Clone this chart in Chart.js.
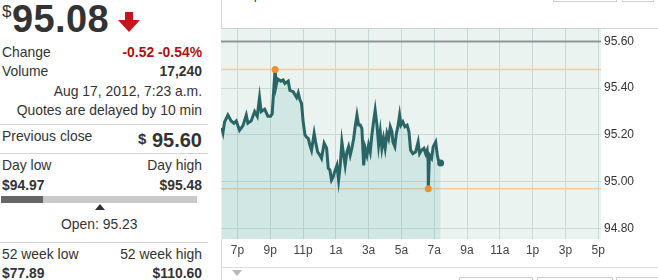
<!DOCTYPE html>
<html>
<head>
<meta charset="utf-8">
<script src="https://cdn.jsdelivr.net/npm/chart.js@4/dist/chart.umd.min.js"></script>
<style>
  html, body { margin: 0; padding: 0; background: #fff; }
  body { width: 658px; height: 280px; position: relative; overflow: hidden;
         font-family: "Liberation Sans", Arial, sans-serif; color: #333; }
  .t { position: absolute; line-height: 1; white-space: nowrap; font-size: 13.9px; }
  .r { right: 456px; text-align: right; }
  .b { font-weight: bold; }
  .red { color: #b20f0f; }
  .sep { position: absolute; left: 0; width: 208px; height: 1px; background: #d4d4d4; }
  .box { position: absolute; border: 1px solid #cfcfcf; background: #fff; }
  #wrap { position: absolute; left: 215px; top: 9px; width: 443px; height: 259px; }
</style>
</head>
<body>
<!-- quote panel -->
<div class="t" style="left:2px;top:3px;font-size:17px;">$</div>
<div class="t b" style="left:12px;top:0px;font-size:38px;letter-spacing:0.4px;">95.08</div>
<svg style="position:absolute;left:117px;top:12px" width="24" height="21" viewBox="0 0 24 21">
  <polygon points="8,0 16,0 16,8 23,8 12,20 1,8 8,8" fill="#c4161c"/>
</svg>

<div class="t" style="left:2px;top:45.5px;">Change</div>
<div class="t r b red" style="top:45.5px;">-0.52 -0.54%</div>
<div class="t" style="left:2px;top:65px;">Volume</div>
<div class="t r b" style="top:65px;">17,240</div>
<div class="t r" style="top:85px;">Aug 17, 2012, 7:23 a.m.</div>
<div class="t r" style="top:103.5px;">Quotes are delayed by 10 min</div>
<div class="sep" style="top:124px;"></div>

<div class="t" style="left:2px;top:130px;">Previous close</div>
<div class="t r b" style="top:130px;font-size:20px;"><span style="font-size:15px;position:relative;top:-3px;">$</span> 95.60</div>
<div class="sep" style="top:153px;"></div>

<div class="t" style="left:2px;top:159px;">Day low</div>
<div class="t r" style="top:159px;">Day high</div>
<div class="t b" style="left:2px;top:179px;">$94.97</div>
<div class="t r b" style="top:179px;">$95.48</div>
<div style="position:absolute;left:1px;top:196px;width:196px;height:7px;background:#c9c9c9;"></div>
<div style="position:absolute;left:1px;top:196px;width:42px;height:7px;background:#666;"></div>
<svg style="position:absolute;left:95px;top:204px" width="10" height="6" viewBox="0 0 10 6">
  <polygon points="5,0 10,6 0,6" fill="#333"/>
</svg>
<div class="t" style="left:61px;top:217.5px;">Open: 95.23</div>
<div class="sep" style="top:242px;"></div>

<div class="t" style="left:2px;top:247.5px;">52 week low</div>
<div class="t r" style="top:247.5px;">52 week high</div>
<div class="t b" style="left:2px;top:266.5px;">$77.89</div>
<div class="t r b" style="top:266.5px;">$110.60</div>

<!-- chart panel frame -->
<div style="position:absolute;left:221px;top:0;width:1px;height:280px;background:#d6d6d6;"></div>
<div class="t" style="left:254px;top:-11px;font-size:12px;">p</div>
<div class="box" style="left:553px;top:-20px;width:62px;height:20px;"></div>
<div class="box" style="left:622px;top:-20px;width:30px;height:20px;"></div>
<div class="box" style="left:459px;top:277px;width:72px;height:20px;"></div>
<div class="box" style="left:537px;top:277px;width:74px;height:20px;"></div>
<div class="box" style="left:616px;top:277px;width:60px;height:20px;"></div>
<div style="position:absolute;left:221px;top:267px;width:437px;height:1px;background:#dcdcdc;"></div>
<svg style="position:absolute;left:232px;top:270px" width="10" height="6" viewBox="0 0 10 6">
  <polygon points="0,0 10,0 5,6" fill="#b4bcc0"/>
</svg>

<div id="wrap"><canvas id="chart"></canvas></div>
<div style="position:absolute;left:221px;top:28px;width:437px;height:1px;background:#cdd3d1;"></div>

<script>
// hours after 6 p.m. (Aug 16) and last trade price
const hoursSince6p = [
  0.05, 0.12, 0.22, 0.42, 0.62, 0.79, 0.93, 1.13, 1.34, 1.54, 1.64, 1.84,
  2.05, 2.21, 2.35, 2.45, 2.66, 2.86, 3.02, 3.12, 3.23, 3.30, 3.36, 3.45,
  3.65, 3.79, 3.90, 4.10, 4.20, 4.40, 4.61, 4.71, 4.81, 4.91, 5.01, 5.12,
  5.22, 5.32, 5.42, 5.52, 5.68, 5.77, 5.89, 6.03, 6.13, 6.29, 6.44, 6.54,
  6.64, 6.74, 6.84, 6.93, 7.07, 7.17, 7.27, 7.37, 7.48, 7.57, 7.68, 7.78,
  7.88, 7.98, 8.09, 8.18, 8.29, 8.39, 8.49, 8.59, 8.70, 8.79, 8.90, 9.00,
  9.10, 9.20, 9.30, 9.40, 9.51, 9.61, 9.71, 9.81, 9.91, 10.01, 10.12, 10.22,
  10.32, 10.42, 10.48, 10.60, 10.68, 10.80, 10.89, 10.97, 11.09, 11.21, 11.35, 11.46,
  11.56, 11.70, 11.87, 12.02, 12.11, 12.23, 12.37, 12.48, 12.57, 12.63, 12.64, 12.71,
  12.84, 12.94, 13.09, 13.19, 13.25, 13.39
];
const prices = [
  95.23, 95.21, 95.256, 95.285, 95.26, 95.25, 95.26, 95.22, 95.24, 95.285, 95.25, 95.26,
  95.30, 95.28, 95.36, 95.30, 95.31, 95.28, 95.28, 95.29, 95.41, 95.48, 95.41, 95.44,
  95.43, 95.435, 95.42, 95.43, 95.39, 95.385, 95.36, 95.38, 95.35, 95.335, 95.256, 95.20,
  95.19, 95.185, 95.157, 95.135, 95.207, 95.17, 95.128, 95.114, 95.10, 95.164, 95.143, 95.057,
  95.05, 95.007, 95.02, 95.043, 95.07, 95.007, 95.07, 95.17, 95.114, 95.07, 95.128, 95.15,
  95.114, 95.143, 95.185, 95.235, 95.285, 95.242, 95.242, 95.228, 95.07, 95.143, 95.114, 95.157,
  95.128, 95.20, 95.256, 95.306, 95.242, 95.157, 95.214, 95.143, 95.185, 95.143, 95.207, 95.185,
  95.235, 95.214, 95.17, 95.15, 95.20, 95.242, 95.285, 95.242, 95.256, 95.235, 95.242, 95.214,
  95.135, 95.12, 95.128, 95.17, 95.12, 95.135, 95.143, 95.12, 95.135, 95.085, 94.97, 95.114,
  95.10, 95.15, 95.17, 95.114, 95.093, 95.08
];
const prevClose = 95.60;
const dayHigh = 95.48;
const dayLow = 94.97;

const timeTicks = [1, 3, 5, 7, 9, 11, 13, 15, 17, 19, 21, 23];
const timeLabels = ['7p', '9p', '11p', '1a', '3a', '5a', '7a', '9a', '11a', '1p', '3p', '5p'];
const priceTicks = [94.80, 95.00, 95.20, 95.40, 95.60];

const X_MIN = 0, X_MAX = 23.17;
const Y_MIN = 94.755, Y_MAX = 95.653;

const points = hoursSince6p.map((h, i) => ({ x: h, y: prices[i] }));
const hiIdx = prices.indexOf(Math.max(...prices));
const loIdx = prices.indexOf(Math.min(...prices));
const last = points[points.length - 1];

const flatLine = (v) => [{ x: X_MIN, y: v }, { x: X_MAX, y: v }];

const plotBg = {
  id: 'plotBg',
  beforeDraw(chart) {
    const a = chart.chartArea, ctx = chart.ctx;
    ctx.save();
    ctx.fillStyle = '#ebf3f0';
    ctx.fillRect(a.left, a.top, a.right - a.left, a.bottom - a.top);
    ctx.restore();
  }
};

new Chart(document.getElementById('chart'), {
  type: 'line',
  data: {
    datasets: [
      { // high / low markers
        data: [points[hiIdx], points[loIdx]],
        showLine: false, pointRadius: 3.5, pointBackgroundColor: '#ef9229',
        pointBorderWidth: 0, order: 0
      },
      { // last trade
        data: [last],
        showLine: false, pointRadius: 3.5, pointBackgroundColor: '#2b6666',
        pointBorderWidth: 0, order: 1
      },
      {
        data: points,
        borderColor: '#296565', borderWidth: 3, tension: 0,
        fill: 'start', backgroundColor: 'rgba(100,180,170,0.19)',
        pointRadius: 0, order: 2
      },
      {
        data: flatLine(prevClose),
        borderColor: '#8e9896', borderWidth: 2, pointRadius: 0, order: 3
      },
      {
        data: flatLine(dayHigh),
        borderColor: '#f3cca4', borderWidth: 1.5, pointRadius: 0, order: 3
      },
      {
        data: flatLine(dayLow),
        borderColor: '#f3cca4', borderWidth: 1.5, pointRadius: 0, order: 3
      }
    ]
  },
  options: {
    responsive: true,
    maintainAspectRatio: false,
    animation: false,
    layout: { padding: { left: 6, top: 20, right: 0, bottom: 0 } },
    plugins: { legend: { display: false }, tooltip: { enabled: false } },
    scales: {
      x: {
        type: 'linear', min: X_MIN, max: X_MAX,
        afterBuildTicks: (s) => { s.ticks = timeTicks.map(v => ({ value: v })); },
        afterFit: (s) => { s.height = 29; },
        ticks: {
          padding: 4, color: '#444',
          font: { family: '"Liberation Sans", Arial', size: 12 },
          callback: (v, i) => timeLabels[i]
        },
        grid: { color: '#cad9d5', lineWidth: 1, drawTicks: false },
        border: { display: false }
      },
      y: {
        position: 'right', min: Y_MIN, max: Y_MAX,
        afterBuildTicks: (s) => { s.ticks = priceTicks.map(v => ({ value: v })); },
        afterFit: (s) => { s.width = 57; },
        ticks: {
          padding: 3, color: '#333',
          font: { family: '"Liberation Sans", Arial', size: 12 },
          callback: (v) => Number(v).toFixed(2)
        },
        grid: { color: '#cad9d5', lineWidth: 1, drawTicks: false },
        border: { display: false }
      }
    }
  },
  plugins: [plotBg]
});
</script>
</body>
</html>
